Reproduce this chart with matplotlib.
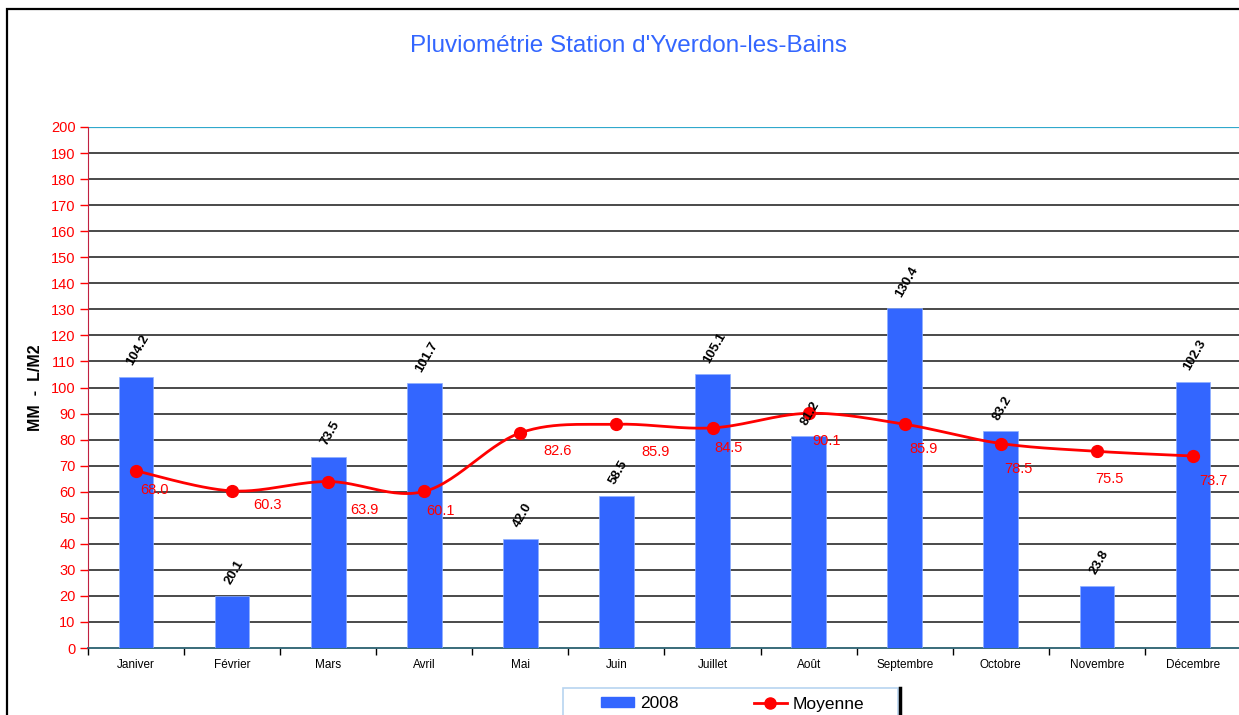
import numpy as np
import matplotlib
matplotlib.use("Agg")
import matplotlib.pyplot as plt
from matplotlib.lines import Line2D
from matplotlib.patches import Patch, Rectangle

plt.rcParams['font.family'] = ['Liberation Sans', 'DejaVu Sans']

mois = ['Janiver', 'Février', 'Mars', 'Avril', 'Mai', 'Juin', 'Juillet',
        'Août', 'Septembre', 'Octobre', 'Novembre', 'Décembre']
pluie_2008 = [104.2, 20.1, 73.5, 101.7, 42.0, 58.5, 105.1, 81.2, 130.4, 83.2, 23.8, 102.3]
moyenne = [68.0, 60.3, 63.9, 60.1, 82.6, 85.9, 84.5, 90.1, 85.9, 78.5, 75.5, 73.7]

# where the red labels sit relative to their marker (pixels right, pixels down)
label_shift = [(18, 19), (35, 14), (36, 28), (16, 20), (37, 18), (39, 28),
               (16, 20), (18, 28), (19, 25), (18, 25), (13, 28), (20, 25)]

BLUE = '#3366ff'
RED = '#ff0000'


def smooth_line(xs, ys, n=30):
    # Catmull-Rom curve through the points, like Excel's smoothed line
    xs = np.asarray(xs, float)
    ys = np.asarray(ys, float)
    out_x, out_y = [], []
    for i in range(len(xs) - 1):
        i0 = max(i - 1, 0)
        i3 = min(i + 2, len(xs) - 1)
        t = np.linspace(0, 1, n)
        for arr, out in ((xs, out_x), (ys, out_y)):
            p0, p1, p2, p3 = arr[i0], arr[i], arr[i + 1], arr[i3]
            c = 0.5 * ((2 * p1) + (-p0 + p2) * t
                       + (2 * p0 - 5 * p1 + 4 * p2 - p3) * t ** 2
                       + (-p0 + 3 * p1 - 3 * p2 + p3) * t ** 3)
            out.extend(c)
    return out_x, out_y


fig = plt.figure(figsize=(12.39, 7.15), dpi=100)
W, H = 1239, 715

# outer chart frame (cut off at right/bottom like the original)
fig.patches.append(Rectangle((7 / W, -0.1), 1.2, 1 - 9 / H + 0.1, transform=fig.transFigure,
                             fill=False, edgecolor='black', linewidth=1.6))

ax = fig.add_axes([88 / W, (H - 648) / H, (1241 - 88) / W, (648 - 127) / H])

x = np.arange(len(mois))
ax.bar(x, pluie_2008, width=0.36, color=BLUE, edgecolor='#8fb0ff', linewidth=0.5, zorder=3)

sx, sy = smooth_line(x, moyenne)
ax.plot(sx, sy, color=RED, linewidth=2, zorder=4)
ax.plot(x, moyenne, 'o', color=RED, markersize=8.5, zorder=5)

for i, v in enumerate(pluie_2008):
    ax.annotate(f"{v:.1f}", (i, v), xytext=(1.5, 6.5), textcoords='offset points',
                rotation=60, ha='center', va='bottom', fontsize=9.5,
                fontweight='bold', color='black', zorder=6)

for i, v in enumerate(moyenne):
    dx, dy = label_shift[i]
    ax.annotate(f"{v:.1f}", (i, v), xytext=(dx * 0.72, -dy * 0.72), textcoords='offset points',
                ha='center', va='center', fontsize=10.5, color=RED, zorder=6)

ax.set_xlim(-0.5, len(mois) - 0.5)
ax.set_ylim(0, 200)
ax.set_yticks(np.arange(0, 201, 10))
for yv in range(10, 200, 10):
    ax.axhline(yv, color='#3a3a3a', linewidth=1.3, zorder=1)
ax.axhline(200, color='#30a8cc', linewidth=1.6, zorder=1)

ax.set_xticks(x)
ax.set_xticklabels(mois, fontsize=8.5)
ax.set_xticks(np.arange(-0.5, len(mois), 1), minor=True)
ax.tick_params(axis='x', which='major', length=0, pad=8)
ax.tick_params(axis='x', which='minor', length=5, width=1, color='black', direction='out')
ax.tick_params(axis='y', length=6, width=1, colors=RED, labelsize=10.5, direction='out', pad=3)

for s in ['top', 'right']:
    ax.spines[s].set_visible(False)
ax.spines['left'].set_color('#c02040')
ax.spines['bottom'].set_color('#2a6070')
ax.spines['bottom'].set_linewidth(1.3)

ax.set_ylabel('MM  -  L/M2', fontsize=11.5, fontweight='bold')
ax.yaxis.set_label_coords(-0.039, 0.5)

fig.text(628 / W, 1 - 46 / H, "Pluviométrie Station d'Yverdon-les-Bains", color=BLUE,
         fontsize=17.5, ha='center', va='center')

# legend box drawn by hand, entries placed inside it
fig.patches.append(Rectangle((563 / W, -0.05), (898 - 563) / W, 0.05 + 1 - 688 / H,
                             transform=fig.transFigure, facecolor='white',
                             edgecolor='#b8d4f0', linewidth=1.2))
handles = [Patch(facecolor=BLUE, edgecolor=BLUE),
           Line2D([0], [0], color=RED, linewidth=2, marker='o', markersize=8)]
leg = fig.legend(handles, ['2008', 'Moyenne'], loc='center left',
                 bbox_to_anchor=(598 / W, 1 - 704 / H), ncol=2, fontsize=12.5,
                 frameon=False, borderaxespad=0, handlelength=1.9,
                 handleheight=0.5, columnspacing=4.3, borderpad=0.2,
                 handletextpad=0.35)
fig.add_artist(Line2D([900 / W, 900 / W], [0, 1 - 688 / H], transform=fig.transFigure,
                      color='black', linewidth=2.5))

fig.savefig('out.png', dpi=100)
